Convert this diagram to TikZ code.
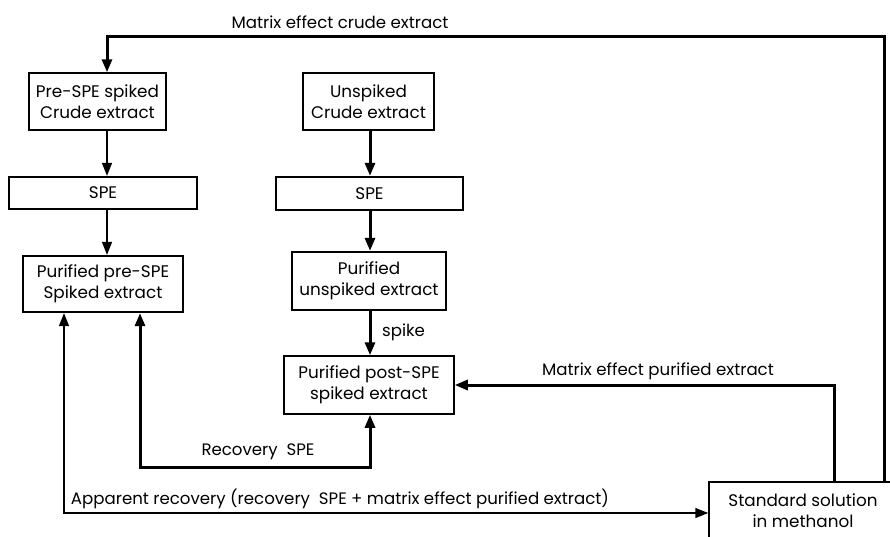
\documentclass[tikz,border=0pt]{standalone}
\usepackage{fontspec}
\setmainfont{Poppins}
\usetikzlibrary{arrows.meta}
\tikzset{box/.style={draw, line width=1.5pt, align=center, inner sep=1pt,
  font=\fontsize{16.8}{21}\selectfont},
  boxb/.style={box, line width=2.3pt},
  lbl/.style={draw=none, inner sep=0pt, font=\fontsize{16.6}{18}\selectfont},
  thk/.style={line width=3pt},
  thn/.style={line width=1.5pt}}

\begin{document}
\begin{tikzpicture}[x=1pt, y=-1pt, >={Triangle[length=13pt, width=10pt]}]
  \useasboundingbox (0,0) rectangle (890,536);
  \coordinate (lcol) at (107,0);
  \coordinate (rcol) at (370,0);
  \coordinate (toprow) at (0,36);
  \coordinate (recrow) at (0,467);
  \coordinate (approw) at (0,513);
  \node[box, minimum width=137pt, minimum height=57pt] (pre) at (97.5,101.5)
    {Pre-SPE spiked\\Crude extract};
  \node[box, minimum width=131pt, minimum height=57pt] (unsp) at (368.5,101.5)
    {Unspiked\\Crude extract};
  \node[boxb, minimum width=188pt, minimum height=32pt] (spe1) at (103,193) {SPE};
  \node[boxb, minimum width=187pt, minimum height=33pt] (spe2) at (369.5,193.5) {SPE};
  \node[boxb, minimum width=160pt, minimum height=56pt] (pur1) at (103,284)
    {Purified pre-SPE\\Spiked extract};
  \node[boxb, minimum width=154pt, minimum height=58pt] (pur2) at (369,281)
    {Purified\\unspiked extract};
  \node[box, minimum width=170pt, minimum height=58pt] (post) at (369,385)
    {Purified post-SPE\\spiked extract};
  \node[box, minimum width=188pt, minimum height=58pt] (std) at (803,511)
    {Standard solution\\in methanol};
  % labels
  \node[lbl] (lcrude) at (340,22) {Matrix effect crude extract};
  \node[lbl, anchor=west] (lspike) at (382,332) {spike};
  \node[lbl] (lpurif) at (658,371) {Matrix effect purified extract};
  \node[lbl] (lrec) at (258,452) {Recovery\ \ SPE};
  \node[lbl] (lapp) at (340,499)
    {Apparent recovery (recovery\ \ SPE + matrix effect purified extract)};
  % main columns
  \draw[->, thn] (pre.south -| lcol) -- (spe1.north -| lcol);
  \draw[->, thn] (spe1.south -| lcol) -- (pur1.north -| lcol);
  \draw[->, thk] (unsp.south -| rcol) -- (spe2.north -| rcol);
  \draw[->, thk] (spe2.south -| rcol) -- (pur2.north -| rcol);
  \draw[->, thk] (pur2.south -| rcol) -- (post.north -| rcol);
  % comparisons with the standard
  \draw[->, thk] ([xshift=81pt]std.north) |- (toprow -| lcol) -- (pre.north -| lcol);
  \draw[->, thk] ([xshift=31pt]std.north) |- (post.east);
  \draw[<->, thk] (post.south -| rcol) -- (recrow -| rcol)
    -| ([xshift=37pt]pur1.south);
  \draw[<->, thn] ([xshift=-39pt]pur1.south) |- (std.west |- approw);
\end{tikzpicture}
\end{document}
